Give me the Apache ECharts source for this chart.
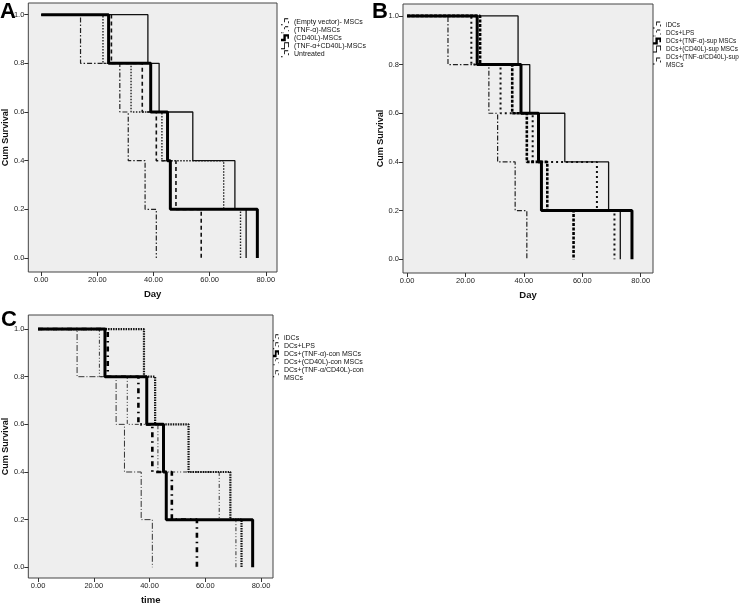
<!DOCTYPE html>
<html><head><meta charset="utf-8">
<script src="https://cdn.jsdelivr.net/npm/echarts@6/dist/echarts.min.js"></script>
<style>html,body{margin:0;padding:0;background:#fff}#c{width:741px;height:607px}</style>
</head><body><div id="c"></div>
<script>
// ---- data ----
const survival = [1.0, 0.8, 0.6, 0.4, 0.2, 0.0];
const xTickValues = [0, 20, 40, 60, 80];
const yTickValues = [0, 0.2, 0.4, 0.6, 0.8, 1.0];

// Panel A (day of each death, 5 animals per group; first value = start)
const aNames = ['(Empty vector)- MSCs', '(TNF-α)-MSCs', '(CD40L)-MSCs', '(TNF-α+CD40L)-MSCs', 'Untreated'];
const aEmptyVector = [0, 25, 36, 41, 48, 57];
const aTnf = [0, 22, 32, 43, 65, 71];
const aCd40l = [0, 24, 39, 45, 46, 77];
const aTnfCd40l = [0, 38, 42, 54, 69, 73];
const aUntreated = [0, 14, 28, 31, 37, 41];

// Panel B
const bNames = ['iDCs', 'DCs+LPS', 'DCs+(TNF-α)-sup MSCs', 'DCs+(CD40L)-sup MSCs', 'DCs+(TNF-α/CD40L)-sup MSCs'];
const bIDCs = [0, 14, 28, 31, 37, 41];
const bLPS = [0, 22, 32, 43, 65, 71];
const bTnfSup = [0, 24, 39, 45, 46, 77];
const bCd40lSup = [0, 38, 42, 54, 69, 73];
const bTnfCd40lSup = [0, 25, 36, 41, 48, 57];

// Panel C
const cNames = ['iDCs', 'DCs+LPS', 'DCs+(TNF-α)-con MSCs', 'DCs+(CD40L)-con MSCs', 'DCs+(TNF-α/CD40L)-con MSCs'];
const cIDCs = [0, 14, 28, 31, 37, 41];
const cLPS = [0, 22, 32, 43, 65, 71];
const cTnfCon = [0, 24, 39, 45, 46, 77];
const cCd40lCon = [0, 38, 42, 54, 69, 73];
const cTnfCd40lCon = [0, 25, 36, 41, 48, 57];

// ---- styles ----
const FONT = '"Liberation Sans", Arial, sans-serif';
const ICON_THICK = 'path://M0,6 L3,6 L3,0 L10,0 L10,6 L8,6 L8,3 L6,3 L6,9 L0,9 Z';
const ICON_THIN = 'path://M0,7 L4,7 L4,1 L10,1 L10,6 L9,6 L9,2 L5,2 L5,8 L0,8 Z';
const ICON_DASH = 'path://M0,7 L2,7 L2,8 L0,8 Z M4,1 L5,1 L5,5 L4,5 Z M4,1 L9,1 L9,2 L4,2 Z M9,4 L10,4 L10,6 L9,6 Z';
const ICON_DOT = 'path://M0,7 L1,7 L1,8 L0,8 Z M2,7 L3,7 L3,8 L2,8 Z M4,2 L5,2 L5,4 L4,4 Z M5,1 L9,1 L9,2 L5,2 Z M9,5 L10,5 L10,6 L9,6 Z';

const styles = {
  thick: { color: '#000', width: 3, type: 'solid' },
  thin: { color: '#111', width: 1.3, type: 'solid' },
  dashA: { color: '#111', width: 1.6, type: [4, 3] },
  dotA: { color: '#222', width: 1.4, type: [1.5, 1.5] },
  dashDot: { color: '#222', width: 1.2, type: [5, 2, 1.5, 2] },
  dotB: { color: '#111', width: 2, type: [2, 3] },
  heavyDash: { color: '#000', width: 2.6, type: [3, 1.5] },
  dashDotC: { color: '#333', width: 1, type: [6, 2, 1, 2] },
  dashDotDotC: { color: '#333', width: 1, type: [4, 2, 1, 2, 1, 2] },
  dotC: { color: '#111', width: 2.2, type: [1.5, 1] },
  heavyDashDotC: { color: '#000', width: 2.6, type: [5, 4, 1.5, 4] }
};

function km(name, days, g, ls, z) {
  return {
    type: 'line', name, xAxisIndex: g, yAxisIndex: g, step: 'end',
    data: days.map((d, i) => [d, survival[i]]),
    symbol: 'none', showSymbol: false, color: '#000',
    lineStyle: { color: ls.color, width: ls.width, type: ls.type, cap: 'butt' },
    emphasis: { disabled: true }, animation: false, z: z || 2
  };
}

function xAx(g, min, max, name) {
  return {
    type: 'value', gridIndex: g, min, max,
    axisLine: { show: false, onZero: false },
    splitLine: { show: false },
    axisTick: { show: true, customValues: xTickValues, length: 4, lineStyle: { color: '#333' } },
    axisLabel: { customValues: xTickValues, formatter: v => v.toFixed(2), fontSize: 7.5, color: '#222', margin: 4, fontFamily: FONT },
    name, nameLocation: 'middle', nameGap: 17,
    nameTextStyle: { fontWeight: 'bold', fontSize: 9.5, color: '#111', fontFamily: FONT }
  };
}
function yAx(g, min, max) {
  return {
    type: 'value', gridIndex: g, min, max,
    axisLine: { show: false, onZero: false },
    splitLine: { show: false },
    axisTick: { show: true, customValues: yTickValues, length: 4, lineStyle: { color: '#333' } },
    axisLabel: { customValues: yTickValues, formatter: v => v.toFixed(1), fontSize: 7.5, color: '#222', margin: 4, fontFamily: FONT },
    name: 'Cum Survival', nameLocation: 'middle', nameGap: 14,
    nameTextStyle: { fontWeight: 'bold', fontSize: 9, color: '#111', fontFamily: FONT }
  };
}
function legend(names, icons, left, top, itemWidth, fontSize) {
  return {
    orient: 'vertical', left, top, padding: 0, itemGap: 0,
    itemWidth, itemHeight: 7, selectedMode: false, symbolKeepAspect: false,
    data: names.map((n, i) => ({ name: n, icon: icons[i] })),
    formatter: n => n.length > 24 ? n.replace(/ MSCs$/, '\nMSCs') : n,
    textStyle: { fontSize, lineHeight: 8, color: '#111', fontFamily: FONT }
  };
}

const gridStyle = { show: true, backgroundColor: '#eeeeee', borderColor: '#444', borderWidth: 1 };

const option = {
  animation: false,
  color: ['#000'],
  grid: [
    Object.assign({ left: 27, top: 3, width: 250, height: 269 }, gridStyle),
    Object.assign({ left: 403, top: 4, width: 250, height: 269 }, gridStyle),
    Object.assign({ left: 27, top: 315, width: 246, height: 263 }, gridStyle)
  ],
  xAxis: [xAx(0, -4.6, 84, 'Day'), xAx(1, -1.4, 84.2, 'Day'), xAx(2, -3.5, 84.3, 'time')],
  yAxis: [yAx(0, -0.0575, 1.048), yAx(1, -0.0565, 1.049), yAx(2, -0.045, 1.059)],
  legend: [
    legend(aNames, [ICON_DASH, ICON_DOT, ICON_THICK, ICON_THIN, ICON_DASH], 281, 17.7, 8, 7),
    legend(bNames, [ICON_DASH, ICON_DOT, ICON_THICK, ICON_THIN, ICON_DASH], 653, 21, 8, 6.4),
    legend(cNames, [ICON_DASH, ICON_DASH, ICON_THICK, ICON_DOT, ICON_DASH], 273, 333.7, 6, 7)
  ],
  series: [
    km(aNames[0], aEmptyVector, 0, styles.dashA),
    km(aNames[1], aTnf, 0, styles.dotA),
    km(aNames[2], aCd40l, 0, styles.thick, 3),
    km(aNames[3], aTnfCd40l, 0, styles.thin),
    km(aNames[4], aUntreated, 0, styles.dashDot),

    km(bNames[0], bIDCs, 1, styles.dashDot),
    km(bNames[1], bLPS, 1, styles.dotB),
    km(bNames[2], bTnfSup, 1, styles.thick, 3),
    km(bNames[3], bCd40lSup, 1, styles.thin),
    km(bNames[4], bTnfCd40lSup, 1, styles.heavyDash),

    km(cNames[0], cIDCs, 2, styles.dashDotC),
    km(cNames[1], cLPS, 2, styles.dashDotDotC),
    km(cNames[2], cTnfCon, 2, styles.thick, 3),
    km(cNames[3], cCd40lCon, 2, styles.dotC),
    km(cNames[4], cTnfCd40lCon, 2, styles.heavyDashDotC)
  ],
  graphic: [
    { type: 'text', left: 0, top: 1, style: { text: 'A', font: 'bold 22px ' + FONT, fill: '#000' } },
    { type: 'text', left: 372, top: 1, style: { text: 'B', font: 'bold 22px ' + FONT, fill: '#000' } },
    { type: 'text', left: 1, top: 309, style: { text: 'C', font: 'bold 22px ' + FONT, fill: '#000' } }
  ]
};

const chart = echarts.init(document.getElementById('c'), null, { renderer: 'canvas' });
chart.setOption(option);
</script>
</body></html>
